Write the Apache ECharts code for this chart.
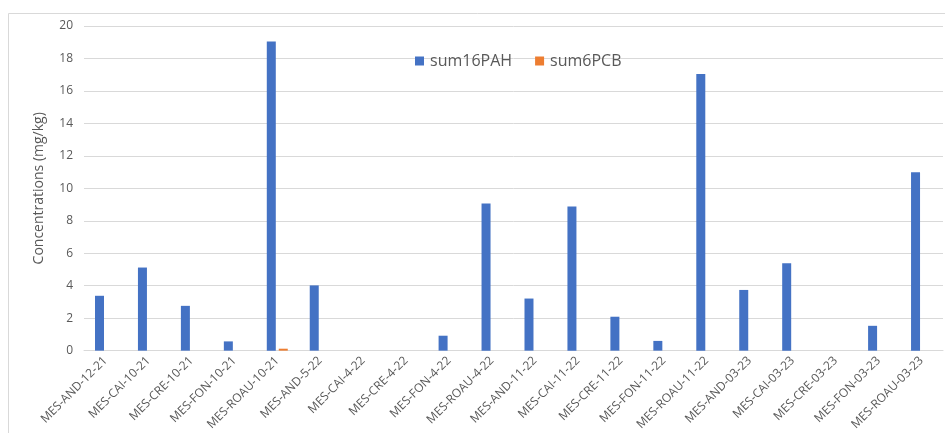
<!DOCTYPE html>
<html>
<head>
<meta charset="utf-8">
<script src="https://cdn.jsdelivr.net/npm/echarts@6/dist/echarts.min.js"></script>
<style>
html,body{margin:0;padding:0;background:#fff;}
#chart{width:945px;height:433px;}
</style>
</head>
<body>
<div id="chart"></div>
<script>
const categories = ["MES-AND-12-21","MES-CAI-10-21","MES-CRE-10-21","MES-FON-10-21","MES-ROAU-10-21","MES-AND-5-22","MES-CAI-4-22","MES-CRE-4-22","MES-FON-4-22","MES-ROAU-4-22","MES-AND-11-22","MES-CAI-11-22","MES-CRE-11-22","MES-FON-11-22","MES-ROAU-11-22","MES-AND-03-23","MES-CAI-03-23","MES-CRE-03-23","MES-FON-03-23","MES-ROAU-03-23"];
const sum16PAH = [3.38, 5.12, 2.76, 0.57, 19.04, 4.02, 0, 0, 0.92, 9.06, 3.21, 8.88, 2.09, 0.6, 17.04, 3.74, 5.38, 0, 1.53, 10.99];
const sum6PCB = [0, 0, 0, 0, 0.12, 0, 0, 0, 0, 0, 0, 0, 0, 0, 0, 0, 0, 0, 0, 0];
const seriesNames = ["sum16PAH", "sum6PCB"];
const yTicks = {min: 0, max: 20, interval: 2};

const chart = echarts.init(document.getElementById('chart'), null, {renderer: 'canvas'});
const font = "'Open Sans', 'DejaVu Sans', sans-serif";
chart.setOption({
  animation: false,
  backgroundColor: '#ffffff',
  graphic: [{
    type: 'rect', silent: true, z: -10,
    shape: {x: 8.5, y: 13.5, width: 1000, height: 600},
    style: {fill: 'none', stroke: '#d9d9d9', lineWidth: 1}
  }],
  legend: {
    data: seriesNames,
    left: 410, top: 48,
    itemWidth: 9, itemHeight: 9, itemGap: 23,
    icon: 'rect',
    textStyle: {fontFamily: font, fontSize: 16, color: '#595959', padding: [0,0,0,1]}
  },
  grid: {left: 84, right: 2, top: 26, bottom: 81.3, containLabel: false},
  xAxis: {
    type: 'category',
    data: categories,
    axisLine: {show: true, lineStyle: {color: '#d9d9d9', width: 1}},
    axisTick: {show: false},
    axisLabel: {rotate: 45, interval: 0, margin: 8, fontFamily: font, fontSize: 12, color: '#595959'}
  },
  yAxis: {
    type: 'value',
    min: yTicks.min, max: yTicks.max, interval: yTicks.interval,
    name: 'Concentrations (mg/kg)',
    nameLocation: 'middle',
    nameGap: 38,
    nameTextStyle: {fontFamily: font, fontSize: 14, color: '#595959'},
    axisLine: {show: false},
    axisTick: {show: false},
    axisLabel: {margin: 11, fontFamily: font, fontSize: 12, color: '#595959'},
    splitLine: {lineStyle: {color: '#d9d9d9', width: 1}}
  },
  series: [
    {name: seriesNames[0], type: 'bar', data: sum16PAH, barWidth: 9, barGap: '33%', itemStyle: {color: '#4472C4'}},
    {name: seriesNames[1], type: 'bar', data: sum6PCB, barWidth: 9, barGap: '33%', itemStyle: {color: '#ED7D31'}}
  ]
});
</script>
</body>
</html>
